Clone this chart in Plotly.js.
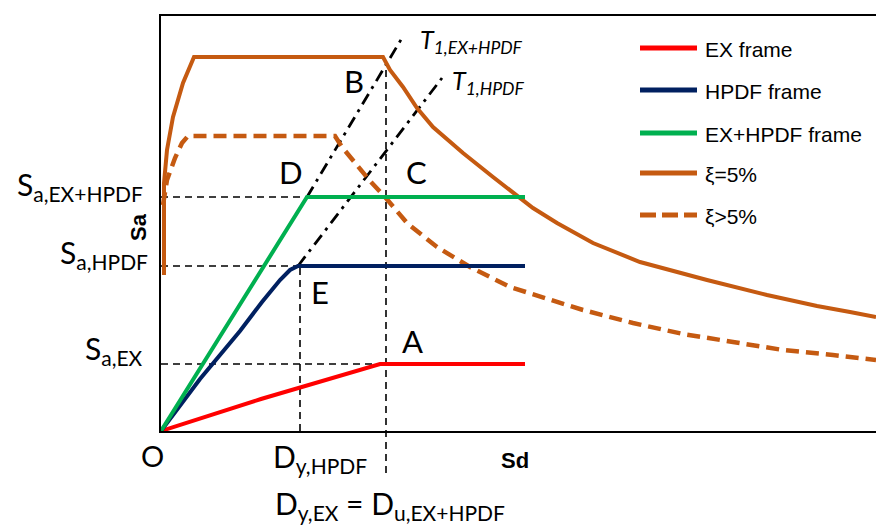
<!DOCTYPE html>
<html><head><meta charset="utf-8">
<script src="https://cdn.plot.ly/plotly-3.0.1.min.js"></script>
<style>html,body{margin:0;padding:0;background:#fff;}#chart{width:876px;height:527px;}</style>
</head><body><div id="chart"></div>
<script>
// ---- Capacity curves (Sd, Sa) ----
const exSd   = [0, 10.0, 21.9, 36.4];
const exSa   = [0, 3.2, 6.7, 6.7];
const hpdfSd = [0, 3.9, 7.9, 10.1, 11.9, 12.9, 13.7, 36.4];
const hpdfSa = [0, 5.2, 10.0, 12.9, 15.1, 16.1, 16.5, 16.5];
const bothSd = [0, 13.9, 14.6, 36.4];
const bothSa = [0, 22.3, 23.4, 23.4];
// ---- Demand spectra ----
const xi5Sd  = [0.3, 0.3, 0.6, 1.2, 2.2, 3.3, 22.2, 22.9, 24.2, 25.6, 27.2, 28.9, 30.2, 33.2, 35.9, 37.2, 39.6, 43.2, 47.9, 54.6, 60.6, 65.6, 68.9, 71.5];
const xi5Sa  = [15.6, 24.8, 28.1, 31.4, 34.8, 37.4, 37.4, 36.1, 34.4, 32.3, 30.4, 28.9, 27.8, 25.4, 23.3, 22.3, 20.8, 18.8, 16.9, 15.1, 13.6, 12.5, 11.9, 11.4];
const xiGtSd = [0.2, 0.6, 1.4, 2.1, 2.7, 17.4, 18.1, 19.6, 20.9, 22.4, 24.6, 27.6, 30.9, 34.9, 38.9, 42.2, 47.2, 52.2, 57.2, 62.2, 67.2, 71.5];
const xiGtSa = [22.6, 25.1, 27.3, 28.8, 29.5, 29.5, 28.4, 26.6, 25.0, 23.4, 20.8, 18.4, 16.4, 14.4, 13.2, 12.1, 10.8, 9.7, 8.9, 8.1, 7.6, 7.1];
// ---- Period lines ----
const t1BothSd = [14.6, 24.1], t1BothSa = [23.4, 39.3];
const t1HpdfSd = [13.7, 28.1], t1HpdfSa = [16.5, 35.3];
// ---- Key values ----
const saEX = 6.7, saHPDF = 16.5, saBoth = 23.4;
const dyHPDF = 13.9, dyEX = 22.5, sdB = 36.1, sdBelow = -4.2;
const xMax = 71.5, yMax = 41.5;
// ---- Legend ----
const legendNames  = ['EX frame', 'HPDF frame', 'EX+HPDF frame', 'ξ=5%', 'ξ>5%'];
const legendColors = ['#FF0000', '#002060', '#00B050', '#C55A11', '#C55A11'];
const legendDash   = ['solid', 'solid', 'solid', 'solid', '16px,6px'];

const ORANGE = '#C55A11';
function ln(x, y, color, width, dash) {
  return {x: x, y: y, type: 'scatter', mode: 'lines', hoverinfo: 'skip', showlegend: false,
          line: {color: color, width: width, dash: dash || 'solid'}};
}
const refDash = '7px,5px', dd = '12px,6px,3px,6px';
const traces = [
  ln([0, bothSd[2]], [saBoth, saBoth], '#000', 1.6, refDash),
  ln([0, hpdfSd[6]], [saHPDF, saHPDF], '#000', 1.6, refDash),
  ln([0, exSd[2]], [saEX, saEX], '#000', 1.6, refDash),
  ln([dyHPDF, dyHPDF], [0, saHPDF], '#000', 1.6, refDash),
  ln(t1BothSd, t1BothSa, '#000', 2.8, dd),
  ln(t1HpdfSd, t1HpdfSa, '#000', 2.8, dd),
  ln(xiGtSd, xiGtSa, ORANGE, 4.5, '13px,7px'),
  ln(xi5Sd, xi5Sa, ORANGE, 4),
  ln(exSd, exSa, '#FF0000', 4),
  ln(hpdfSd, hpdfSa, '#002060', 4),
  ln(bothSd, bothSa, '#00B050', 4)
];

const L = 161, T = 16, W = 715, H = 415;
const px = v => (v - L) / W, py = v => (T + H - v) / H;
const LATO = 'Lato, sans-serif', ARIAL = 'Liberation Sans, Arial, sans-serif';
function ann(text, x, y, xa, size, family, extra) {
  return Object.assign({text: text, x: px(x), y: py(y), xref: 'paper', yref: 'paper',
    xanchor: xa, yanchor: 'middle', showarrow: false,
    font: {family: family || LATO, size: size, color: '#000'}}, extra || {});
}
const annotations = [
  ann('S<sub>a,EX+HPDF</sub>', 145, 186, 'right', 30),
  ann('S<sub>a,HPDF</sub>', 150, 254, 'right', 30),
  ann('S<sub>a,EX</sub>', 145, 350, 'right', 30),
  ann('O', 152, 455, 'center', 29),
  ann('D<sub>y,HPDF</sub>', 271, 458, 'left', 30),
  ann('D<sub>y,EX</sub> = D<sub>u,EX+HPDF</sub>', 273, 505, 'left', 30),
  ann('B', 354, 81, 'center', 31),
  ann('D', 291, 172, 'center', 31),
  ann('C', 416, 172, 'center', 31),
  ann('E', 320, 292, 'center', 31),
  ann('A', 412, 341, 'center', 31),
  ann('<i>T<sub>1,EX+HPDF</sub></i>', 418, 41, 'left', 25),
  ann('<i>T<sub>1,HPDF</sub></i>', 450, 82, 'left', 25),
  ann('<b>Sd</b>', 515, 460, 'center', 22, ARIAL),
  ann('<b>Sa</b>', 139, 227, 'center', 22, ARIAL, {textangle: -90})
];
const legendY = [48, 90, 133, 173, 215];
const shapes = [
  {type: 'line', xref: 'x', yref: 'paper', x0: dyEX, x1: dyEX, y0: sdBelow / yMax, y1: sdB / yMax,
   line: {color: '#000', width: 1.6, dash: refDash}, layer: 'below'}
];
legendNames.forEach((n, i) => {
  shapes.push({type: 'line', xref: 'paper', yref: 'paper', x0: px(640), x1: px(697),
    y0: py(legendY[i]), y1: py(legendY[i]), line: {color: legendColors[i], width: 5, dash: legendDash[i]}});
  annotations.push(ann(n, 703, legendY[i] + 1, 'left', 21, ARIAL));
});

const layout = {
  width: 876, height: 527,
  margin: {l: L, r: 876 - L - W, t: T, b: 527 - T - H, pad: 0},
  paper_bgcolor: '#fff', plot_bgcolor: '#fff',
  showlegend: false,
  xaxis: {range: [0, xMax], showgrid: false, zeroline: false, showticklabels: false, ticks: '',
          showline: true, linecolor: '#000', linewidth: 2, mirror: true, layer: 'below traces', fixedrange: true},
  yaxis: {range: [0, yMax], showgrid: false, zeroline: false, showticklabels: false, ticks: '',
          showline: true, linecolor: '#000', linewidth: 2, layer: 'below traces', fixedrange: true},
  annotations: annotations,
  shapes: shapes
};
Plotly.newPlot('chart', traces, layout, {displayModeBar: false, staticPlot: true});
</script></body></html>
